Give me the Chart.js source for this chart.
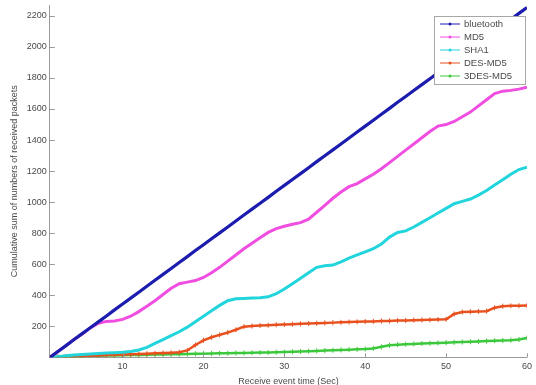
<!DOCTYPE html>
<html>
<head>
<meta charset="utf-8">
<script src="https://cdn.jsdelivr.net/npm/chart.js@4/dist/chart.umd.min.js"></script>
<style>
  html, body { margin: 0; padding: 0; background: #fff; }
  #wrap { width: 536px; height: 385px; }
</style>
</head>
<body>
<div id="wrap"><canvas id="chart"></canvas></div>
<script>
// receive time, seconds
const times = [1,2,3,4,5,6,7,8,9,10,11,12,13,14,15,16,17,18,19,20,
  21,22,23,24,25,26,27,28,29,30,31,32,33,34,35,36,37,38,39,40,
  41,42,43,44,45,46,47,48,49,50,51,52,53,54,55,56,57,58,59,60];

const bluetooth = [0,38,76,115,153,191,229,267,306,344,382,420,458,497,535,573,611,649,688,726,
  764,802,840,879,917,955,993,1031,1070,1108,1146,1184,1222,1261,1299,1337,1375,1413,1452,1490,
  1528,1566,1604,1643,1681,1719,1757,1795,1834,1872,1910,1948,1986,2025,2063,2101,2139,2177,2216,2254];

const md5 = [0,38,76,115,150,190,220,232,235,245,265,295,330,365,405,445,475,485,495,515,
  545,580,620,660,700,735,770,805,830,845,858,868,890,935,980,1025,1065,1100,1120,1150,
  1180,1215,1255,1295,1335,1375,1415,1455,1490,1500,1520,1550,1580,1620,1660,1700,1715,1720,1728,1740];

const sha1 = [0,5,10,15,18,22,25,28,30,33,38,48,65,90,115,140,165,195,230,265,
  300,335,365,378,380,382,385,390,410,440,475,510,545,580,590,595,615,640,660,680,
  700,730,775,805,815,840,870,900,930,960,990,1005,1020,1045,1075,1110,1145,1180,1210,1225];

const desMd5 = [0,3,5,7,9,11,13,15,17,19,20,22,24,26,28,30,33,45,80,110,
  130,145,160,178,198,202,205,207,210,212,214,216,218,220,222,224,226,228,229,231,
  232,234,235,237,238,240,241,242,244,246,280,292,294,296,298,320,330,332,333,334];

const des3Md5 = [0,2,4,6,8,10,11,12,13,14,15,16,17,18,19,20,21,22,23,24,
  25,26,27,28,29,30,31,32,33,34,36,38,40,42,44,46,48,50,52,54,
  58,68,78,82,85,87,89,91,93,95,97,99,101,103,105,107,109,111,115,125];

const xTicks = [10,20,30,40,50,60];
const yTicks = [200,400,600,800,1000,1200,1400,1600,1800,2000,2200];

const FONT = 'Liberation Sans, Arial, sans-serif';
const TXT = '#4a4a4a';

function pts(ys) { return times.map((t, i) => ({ x: t, y: ys[i] })); }

const series = [
  { label: 'bluetooth', data: bluetooth, color: '#1c1cae', width: 3.2, marker: 0 },
  { label: 'MD5',       data: md5,       color: '#f04ee0', width: 3,   marker: 0 },
  { label: 'SHA1',      data: sha1,      color: '#22d4dc', width: 3,   marker: 0 },
  { label: 'DES-MD5',   data: desMd5,    color: '#e8501e', width: 2.5, marker: 2.5 },
  { label: '3DES-MD5',  data: des3Md5,   color: '#3cc83c', width: 2.5, marker: 2.5 }
];

// ticks drawn on the inside of the axes, like the original figure
const innerTicks = {
  id: 'innerTicks',
  afterDraw(chart) {
    const { ctx, chartArea, scales } = chart;
    ctx.save();
    ctx.strokeStyle = '#9a9a9a';
    ctx.lineWidth = 1;
    ctx.beginPath();
    scales.x.ticks.forEach(t => {
      const px = Math.round(scales.x.getPixelForValue(t.value)) + 0.5;
      ctx.moveTo(px, chartArea.bottom);
      ctx.lineTo(px, chartArea.bottom - 4);
    });
    scales.y.ticks.forEach(t => {
      const py = Math.round(scales.y.getPixelForValue(t.value)) + 0.5;
      ctx.moveTo(chartArea.left, py);
      ctx.lineTo(chartArea.left + 5, py);
    });
    ctx.stroke();
    ctx.restore();
  }
};

// boxed legend in the top right corner
const boxLegend = {
  id: 'boxLegend',
  afterDraw(chart) {
    const { ctx, chartArea } = chart;
    const sets = chart.data.datasets;
    const w = 91, rowH = 13, h = sets.length * rowH + 3;
    const x0 = chartArea.right - w - 2, y0 = 16;
    ctx.save();
    ctx.fillStyle = '#fff';
    ctx.fillRect(x0, y0, w, h);
    ctx.strokeStyle = '#a8a8a8';
    ctx.lineWidth = 1;
    ctx.strokeRect(x0 + 0.5, y0 + 0.5, w, h);
    ctx.font = '9.5px ' + FONT;
    ctx.textBaseline = 'middle';
    sets.forEach((ds, i) => {
      const cy = y0 + 8 + i * rowH;
      ctx.strokeStyle = ds.borderColor;
      ctx.lineWidth = 1;
      ctx.beginPath();
      ctx.moveTo(x0 + 6, cy);
      ctx.lineTo(x0 + 26, cy);
      ctx.stroke();
      ctx.fillStyle = ds.borderColor;
      ctx.beginPath();
      ctx.arc(x0 + 16, cy, 1.5, 0, Math.PI * 2);
      ctx.fill();
      ctx.fillStyle = TXT;
      ctx.fillText(ds.label, x0 + 30, cy + 0.5);
    });
    ctx.restore();
  }
};

function noEdgePadding(scale) {
  scale.paddingTop = 0;
  scale.paddingBottom = 0;
}

new Chart(document.getElementById('chart'), {
  type: 'line',
  data: {
    datasets: series.map(s => ({
      label: s.label,
      data: pts(s.data),
      borderColor: s.color,
      backgroundColor: s.color,
      borderWidth: s.width,
      pointRadius: s.marker,
      pointStyle: 'cross',
      pointBorderWidth: 1,
      pointBorderColor: s.color,
      tension: 0
    }))
  },
  options: {
    responsive: true,
    maintainAspectRatio: false,
    animation: false,
    layout: { padding: { left: 9, right: 8, top: -5, bottom: -2 } },
    plugins: { legend: { display: false }, tooltip: { enabled: false } },
    scales: {
      x: {
        type: 'linear',
        min: 1, max: 60,
        afterBuildTicks: scale => { scale.ticks = xTicks.map(v => ({ value: v })); },
        ticks: { color: TXT, font: { family: FONT, size: 9 }, padding: 4, maxRotation: 0,
                 callback: v => String(v) },
        grid: { display: false, drawTicks: false },
        border: { display: true, color: '#9a9a9a', width: 1 },
        title: { display: true, text: 'Receive event time (Sec)', color: TXT,
                 font: { family: FONT, size: 9 }, padding: { top: 0, bottom: 0 } }
      },
      y: {
        type: 'linear',
        min: 0, max: 2270,
        afterBuildTicks: scale => { scale.ticks = yTicks.map(v => ({ value: v })); },
        afterFit: noEdgePadding,
        ticks: { color: TXT, font: { family: FONT, size: 9 }, padding: 3,
                 callback: v => String(v) },
        grid: { display: false, drawTicks: false },
        border: { display: true, color: '#9a9a9a', width: 1 },
        title: { display: true, text: 'Cumulative sum of numbers of received packets', color: TXT,
                 font: { family: FONT, size: 9 }, padding: { top: 0, bottom: 4 } }
      }
    }
  },
  plugins: [innerTicks, boxLegend]
});
</script>
</body>
</html>
